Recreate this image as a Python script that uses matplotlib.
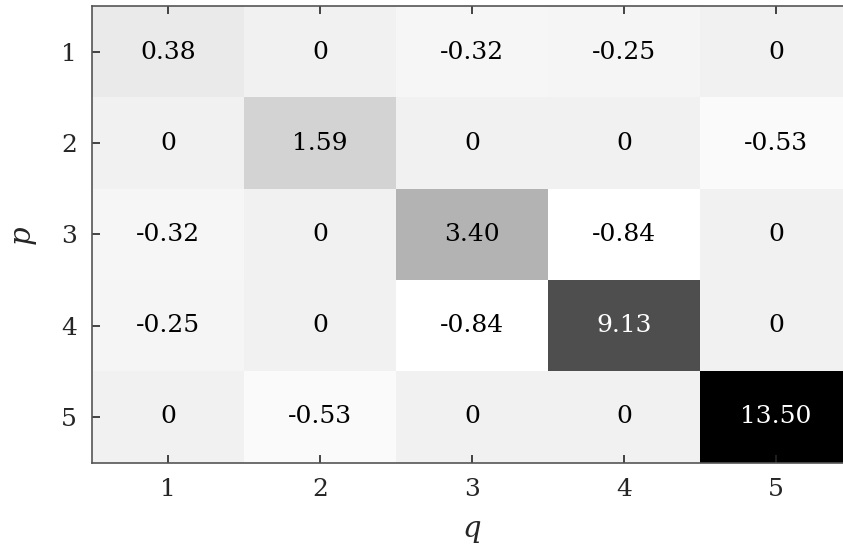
import matplotlib
matplotlib.use("Agg")
import matplotlib.pyplot as plt
import numpy as np

p_labels = ["1", "2", "3", "4", "5"]
q_labels = ["1", "2", "3", "4", "5"]
row1 = [0.38, 0, -0.32, -0.25, 0]
row2 = [0, 1.59, 0, 0, -0.53]
row3 = [-0.32, 0, 3.40, -0.84, 0]
row4 = [-0.25, 0, -0.84, 9.13, 0]
row5 = [0, -0.53, 0, 0, 13.50]
values = np.array([row1, row2, row3, row4, row5])

plt.rcParams['font.family'] = ['DejaVu Serif']
fig = plt.figure(figsize=(8.43, 5.47), dpi=100)
ax = fig.add_axes([92/843, (547-462.6)/547, 760/843, 456.2/547])

vmin, vmax = values.min(), values.max()
ax.imshow(values, cmap='gray_r', vmin=vmin, vmax=vmax, aspect='auto',
          extent=(0.5, 5.5, 5.5, 0.5), interpolation='nearest')

for i in range(values.shape[0]):
    for j in range(values.shape[1]):
        v = values[i, j]
        s = "0" if v == 0 else f"{v:.2f}"
        frac = (v - vmin) / (vmax - vmin)
        col = 'white' if frac > 0.5 else 'black'
        ax.text(j + 1, i + 1, s, ha='center', va='center', fontsize=18, color=col)

ax.set_xlim(0.5, 5.5)
ax.set_ylim(5.5, 0.5)
ax.set_xticks(range(1, 6))
ax.set_xticklabels(q_labels)
ax.set_yticks(range(1, 6))
ax.set_yticklabels(p_labels)
tc = '#262626'
ax.tick_params(direction='in', length=5.8, width=1.2, color=tc, labelcolor=tc,
               labelsize=18, top=True, right=True)
ax.tick_params(axis='y', pad=11)
ax.tick_params(axis='x', pad=11)
for sp in ax.spines.values():
    sp.set_color('#555555')
    sp.set_linewidth(1.2)
ax.set_xlabel('q', fontsize=21, style='italic', color=tc, labelpad=10)
ax.set_ylabel('p', fontsize=21, style='italic', color=tc, labelpad=18)

fig.savefig('out.png', dpi=100)
